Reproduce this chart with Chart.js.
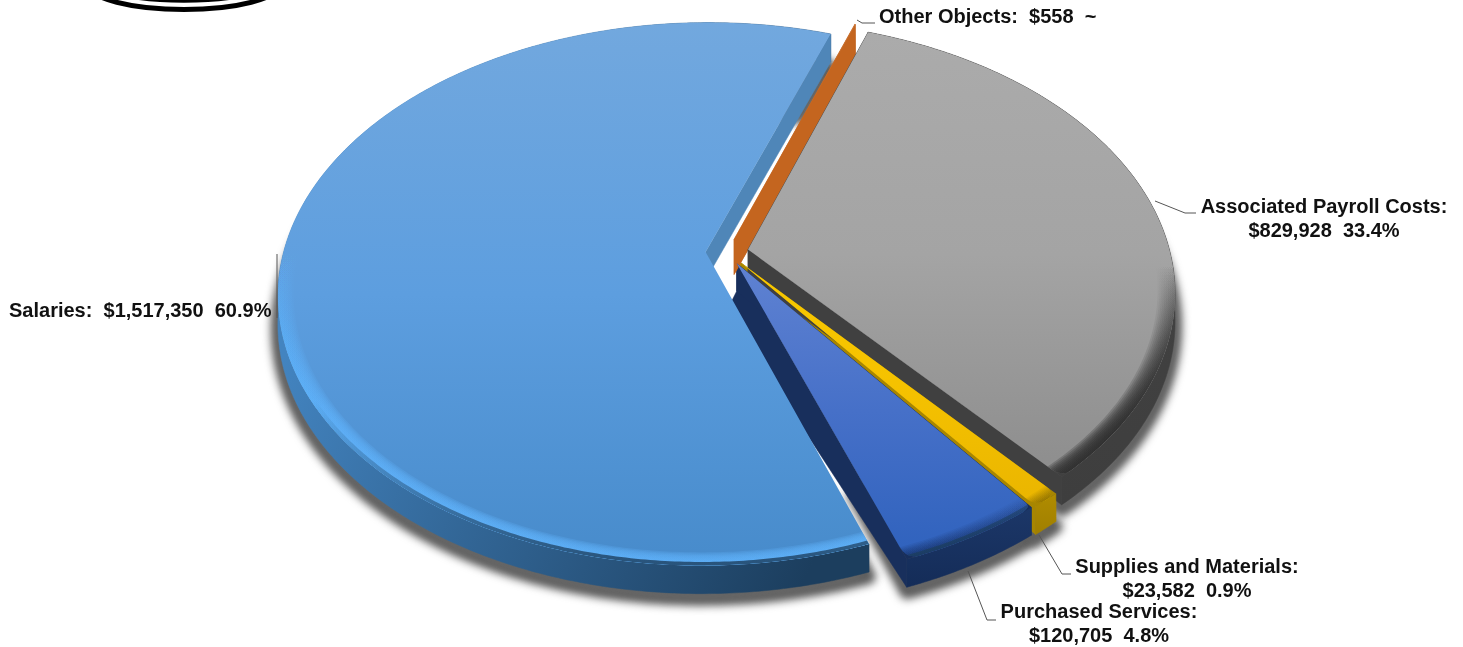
<!DOCTYPE html>
<html><head><meta charset="utf-8">
<style>html,body{margin:0;padding:0;background:#fff}canvas{display:block;filter:blur(0.5px)}</style>
<script src="https://cdn.jsdelivr.net/npm/chart.js@4"></script>
</head><body><div style="width:1463px;height:647px"><canvas id="c" width="1463" height="647"></canvas></div>
<script>
const categories=["Associated Payroll Costs","Supplies and Materials","Purchased Services","Salaries","Other Objects"];
const amounts=[829928,23582,120705,1517350,558];
const percents=["33.4%","0.9%","4.8%","60.9%","~"];
const explode=[16,16,15,16,16];
const topColors=[["#ababab","#a4a4a4","#8d8d8d"],["#f8c800","#f5c200","#eab500"],["#5f82d2","#4670c8","#2f62bd"],["#72a8de","#5d9edf","#478bcb"],["#c9773c","#c4661f","#bf5a12"]];
const wallColors=[["#454545","#3e3e3e"],["#b08c00","#a07f00"],["#1c3768","#142c58"],["#4384c0","#1c3e5e"],["#c9773c","#bd5a14"]];
const faceColors=["#404040","#a88600","#182f5c","#4f86b8","#c4651f"];
const rimColors=["rgba(45,45,45,1)","rgba(60,50,0,0.4)","rgba(15,35,80,0.9)","rgba(94,176,248,1)","rgba(0,0,0,0)"];
const rimFrom=[265,400,480,250,0];
const rimWidth=[0.04,0.03,0.035,0.036,0];
const roundCorner=[[0,1],[1,1],[0.6,1],[0,0],[0,0]];
const depthScale=[1,1,1,1,1.25];
const drawSteps=[[1,"faces"],[2,"faces"],[2,"outer"],[3,"wall"],[3,"top"],[4,"wall"],[4,"top"],[0,"wall"],[0,"top"],[1,"outer"],[1,"top"],[2,"top"]];

const P={cx:727,cy:252,rx:422,ry:265,k:0.155,depth:28};
function proj(u,w,z){const d=1-P.k*w;return [P.cx+P.rx*u/d,P.cy+P.ry*w/d+z];}
function money(v){return "$"+v.toLocaleString("en-US");}

function slicePts(arc,r,z){
  const off=arc.options.offset/arc.outerRadius, mid=(arc.startAngle+arc.endAngle)/2;
  const ou=Math.cos(mid)*off, ow=Math.sin(mid)*off, pts=[];
  const n=Math.max(1,Math.ceil((arc.endAngle-arc.startAngle)/0.01));
  for(let i=0;i<=n;i++){const a=arc.startAngle+(arc.endAngle-arc.startAngle)*i/n;
    pts.push(proj(ou+r*Math.cos(a),ow+r*Math.sin(a),z));}
  return {pts,apex:proj(ou,ow,z)};
}
function poly(ctx,pts){ctx.beginPath();pts.forEach((p,i)=>i?ctx.lineTo(p[0],p[1]):ctx.moveTo(p[0],p[1]));ctx.closePath();}
function grad(ctx,x0,y0,x1,y1,cols){const g=ctx.createLinearGradient(x0,y0,x1,y1);cols.forEach((c,i)=>g.addColorStop(i/(cols.length-1),c));return g;}
function bounds(pts){const ys=pts.map(p=>p[1]);return [Math.min(...ys),Math.max(...ys)];}
function toward(p,q,d){const L=Math.hypot(q[0]-p[0],q[1]-p[1]);return [p[0]+(q[0]-p[0])*d/L,p[1]+(q[1]-p[1])*d/L];}

function topPath(ctx,apex,a,rc){
  ctx.beginPath();ctx.moveTo(apex[0],apex[1]);
  const n=a.length-1, tr=Math.min(3,Math.floor(n/2));
  const s=rc[0]*12,e=rc[1]*14;
  if(s>0){const q=toward(a[0],apex,s);ctx.lineTo(q[0],q[1]);ctx.quadraticCurveTo(a[0][0],a[0][1],a[tr][0],a[tr][1]);}
  else ctx.lineTo(a[0][0],a[0][1]);
  for(let i=(s>0?tr:0);i<=(e>0?n-tr:n);i++)ctx.lineTo(a[i][0],a[i][1]);
  if(e>0){const q=toward(a[n],apex,e);ctx.quadraticCurveTo(a[n][0],a[n][1],q[0],q[1]);}
  ctx.closePath();
}

const pie3d={id:"pie3d",beforeDatasetsDraw(chart){
  const ctx=chart.ctx, arcs=chart.getDatasetMeta(0).data;
  ctx.save();ctx.filter="blur(4px)";ctx.fillStyle="#5e5e5e";ctx.strokeStyle="#5e5e5e";ctx.lineWidth=14;ctx.lineJoin="round";
  [3,2,1,0].forEach(i=>{
    const o=slicePts(arcs[i],1,P.depth+5).pts, n=slicePts(arcs[i],0.72,P.depth).pts;
    poly(ctx,[...o,...n.reverse()]);ctx.fill();ctx.stroke();});
  ctx.restore();
  const drawFace=(i,top,bot,which)=>{
    const a=top.pts,b=bot.pts,last=a.length-1;
    ctx.fillStyle=faceColors[i];ctx.strokeStyle=faceColors[i];ctx.lineWidth=0.5;
    let pts=which==="start"?[top.apex,a[0],b[0],bot.apex]:[top.apex,a[last],b[last],bot.apex];
    // the Purchased wall tucks under the Salaries edge
    if(i===2&&which==="end")pts=[top.apex,a[last],b[last],[bot.apex[0]-10,bot.apex[1]+20],bot.apex];
    poly(ctx,pts);ctx.fill();ctx.stroke();
  };
  const drawOuter=(i,a,b)=>{
    const g=i===3?grad(ctx,290,340,800,590,wallColors[i]):grad(ctx,0,bounds(a)[0],0,bounds(b)[1],wallColors[i]);
    ctx.fillStyle=g;ctx.strokeStyle=g;ctx.lineWidth=0.5;
    poly(ctx,[...a,...b.slice().reverse()]);ctx.fill();ctx.stroke();
  };
  drawSteps.forEach(([i,part])=>{
    const arc=arcs[i], z=P.depth*depthScale[i];
    const top=slicePts(arc,1,0), bot=slicePts(arc,1,z), a=top.pts, b=bot.pts;
    if(part==="faces"){drawFace(i,top,bot,"end");drawFace(i,top,bot,"start");}
    else if(part==="outer"){drawOuter(i,a,b);}
    else if(part==="wall"){
      // the face towards the viewer goes last: on Salaries that is the far end of its sweep
      const first=i===3?"start":"end", second=i===3?"end":"start";
      if(i===3){drawOuter(i,a,b);drawFace(i,top,bot,second);}
      else{drawFace(i,top,bot,first);drawOuter(i,a,b);drawFace(i,top,bot,second);}
    }else{
      const rc=roundCorner[i];
      if(rc[0]||rc[1]){ctx.fillStyle=faceColors[i];poly(ctx,[top.apex,...a]);ctx.fill();}
      const [ty0,ty1]=bounds([top.apex,...a]);
      ctx.fillStyle=grad(ctx,0,ty0,0,ty1,topColors[i]);
      topPath(ctx,top.apex,a,rc);ctx.fill();
      if(rimWidth[i]>0){
        ctx.save();topPath(ctx,top.apex,a,rc);ctx.clip();
        const g=ctx.createLinearGradient(0,rimFrom[i],0,rimFrom[i]+170);
        g.addColorStop(0,rimColors[i].replace(/[\d.]+\)$/,"0)"));g.addColorStop(1,rimColors[i]);
        ctx.fillStyle=g;
        const N=10;ctx.globalAlpha=0.26;
        for(let j=1;j<=N;j++){const inner=slicePts(arc,1-rimWidth[i]*j/N,0).pts;
          poly(ctx,[...a,...inner.slice().reverse()]);ctx.fill();}
        if(i===3||i===2){
          const inner=slicePts(arc,0.99,0).pts;
          const d=ctx.createLinearGradient(0,400,0,560);
          d.addColorStop(0,"rgba(28,62,94,0)");d.addColorStop(1,"rgba(28,62,94,1)");
          ctx.fillStyle=d;ctx.globalAlpha=0.8;
          poly(ctx,[...a,...inner.reverse()]);ctx.fill();
        }
        ctx.restore();
      }
    }
  });
  return false;
},afterDraw(chart){
  const ctx=chart.ctx;
  ctx.save();ctx.strokeStyle="#000";ctx.lineWidth=5;
  ctx.beginPath();ctx.ellipse(184,-15,95,24.5,0,0,Math.PI*2);ctx.stroke();
  ctx.lineWidth=3.5;ctx.beginPath();ctx.ellipse(184,-15,80,16,0,0,Math.PI*2);ctx.stroke();
  ctx.strokeStyle="#555";ctx.lineWidth=1;
  [[[857,20],[862,23],[875,23]],[[1155,201],[1185,213],[1196,213]],[[1039,535],[1062,574],[1071,574]],[[968,571],[987,620],[996,620]],[[277,254],[277,318]]]
   .forEach(l=>{ctx.beginPath();l.forEach((p,i)=>i?ctx.lineTo(p[0],p[1]):ctx.moveTo(p[0],p[1]));ctx.stroke();});
  ctx.fillStyle="#111";ctx.font='bold 20px "Liberation Sans",Arial,sans-serif';ctx.textBaseline="middle";
  const two=(i,x,y)=>{ctx.textAlign="center";ctx.fillText(categories[i]+":",x,y);ctx.fillText(money(amounts[i])+"  "+percents[i],x,y+24);};
  two(0,1324,207);two(1,1187,567);two(2,1099,612);
  ctx.textAlign="left";
  ctx.fillText(categories[3]+":  "+money(amounts[3])+"  "+percents[3],9,311);
  ctx.fillText(categories[4]+":  "+money(amounts[4])+"  "+percents[4],879,17);
  ctx.restore();
}};

new Chart(document.getElementById("c"),{type:"pie",plugins:[pie3d],data:{labels:categories,datasets:[{data:amounts,offset:explode,backgroundColor:topColors.map(c=>c[1]),borderWidth:0}]},
 options:{responsive:false,animation:false,rotation:19.5,plugins:{legend:{display:false},tooltip:{enabled:false}}}});
</script></body></html>
